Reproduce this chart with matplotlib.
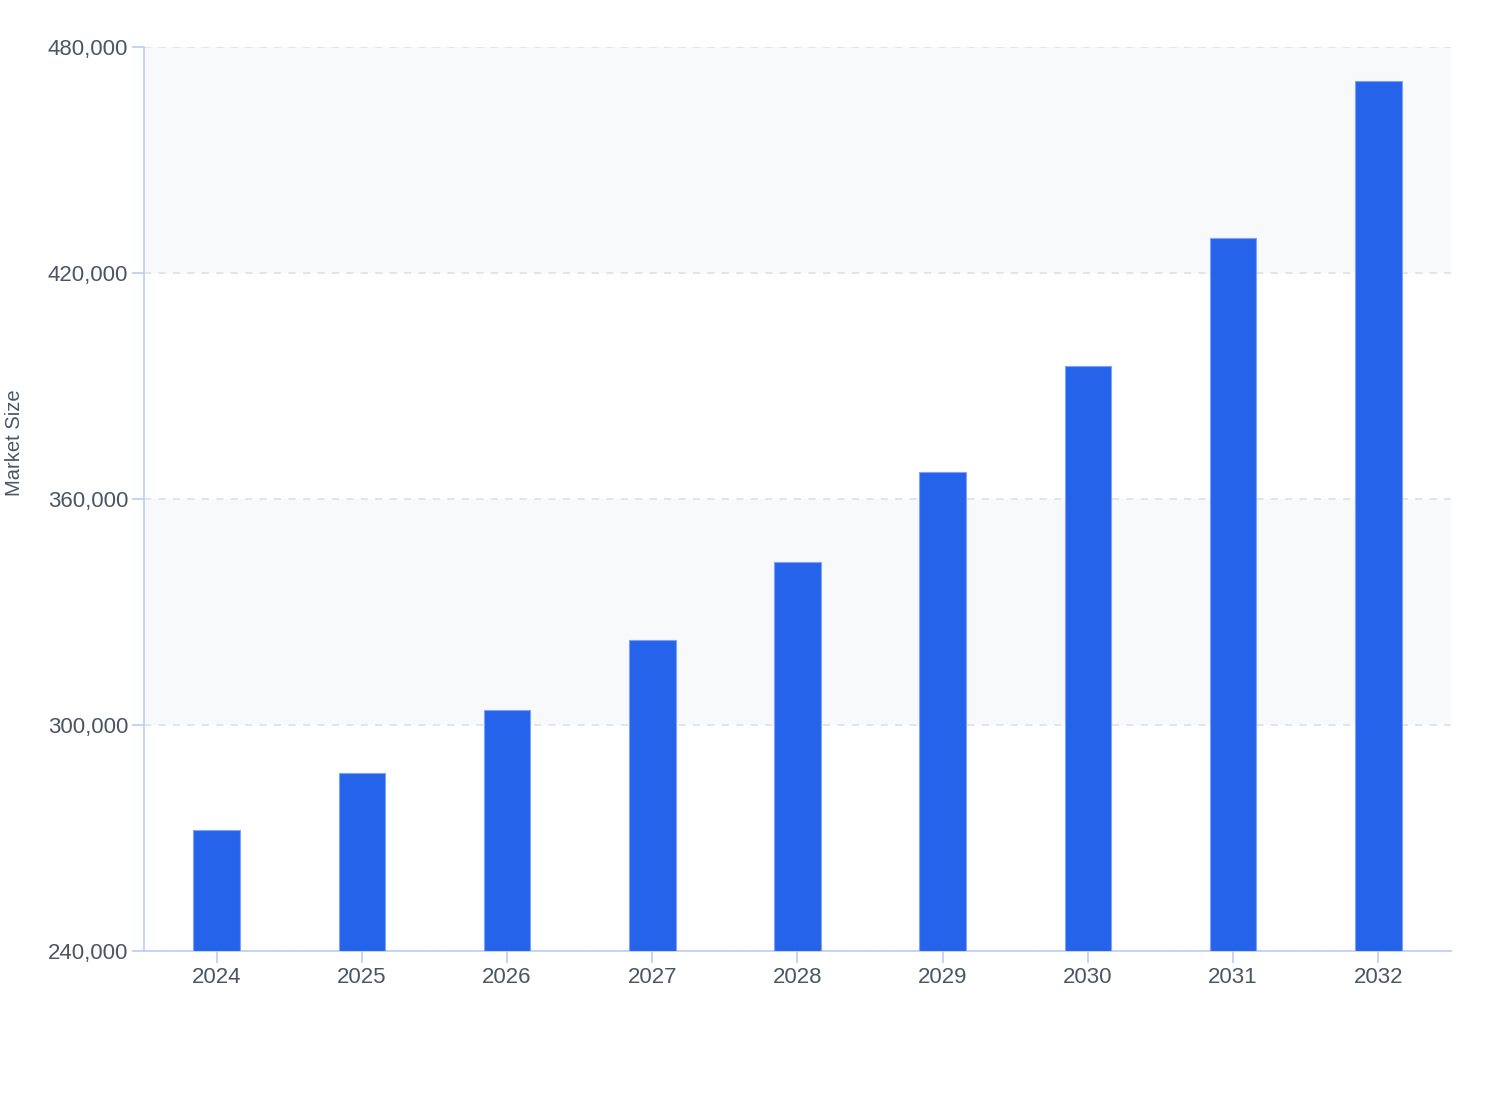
import matplotlib
matplotlib.use("Agg")
import matplotlib.pyplot as plt
from matplotlib.ticker import FuncFormatter

years = ["2024", "2025", "2026", "2027", "2028", "2029", "2030", "2031", "2032"]
market_size = [272000, 287300, 304000, 322500, 343300, 367200, 395300, 429300, 471000]
y_ticks = [240000, 300000, 360000, 420000, 480000]

plt.rcParams['font.family'] = ['Liberation Sans', 'DejaVu Sans']

fig = plt.figure(figsize=(15.08, 11.2), dpi=100)
ax = fig.add_axes([144/1508, 1 - 951/1120, (1451-144)/1508, (951-47)/1120])

ax.set_xlim(-0.5, len(years) - 0.5)
ax.set_ylim(240000, 480000)

# alternating bands
for i in range(len(y_ticks) - 1):
    if i % 2 == 1:
        ax.axhspan(y_ticks[i], y_ticks[i+1], color='#f8f9fb', zorder=0, lw=0)

for t in y_ticks:
    ax.axhline(t, color='#dfe2e8', lw=1.3, ls=(0, (4, 4)), zorder=1)

x = list(range(len(years)))
ax.bar(x, [v - 240000 for v in market_size], bottom=240000, width=0.32,
       color='#2563eb', edgecolor='#7fa2f2', linewidth=0.8, zorder=3)

ax.set_xticks(x)
ax.set_xticklabels(years)
ax.set_yticks(y_ticks)
ax.yaxis.set_major_formatter(FuncFormatter(lambda v, p: f"{int(v):,}"))

for s in ['top', 'right']:
    ax.spines[s].set_visible(False)
for s in ['left', 'bottom']:
    ax.spines[s].set_color('#c0d0f5')
    ax.spines[s].set_linewidth(1.3)

ax.tick_params(axis='both', colors='#c0d0f5', length=8.5, width=1.3, labelsize=16,
               labelcolor='#4b5563')
ax.tick_params(axis='x', pad=3)
ax.tick_params(axis='y', pad=3)

ax.set_ylabel("Market Size", fontsize=14.5, color='#4b5563')
ax.yaxis.set_label_coords(-0.092, 0.562)

fig.savefig("out.png", dpi=100)
